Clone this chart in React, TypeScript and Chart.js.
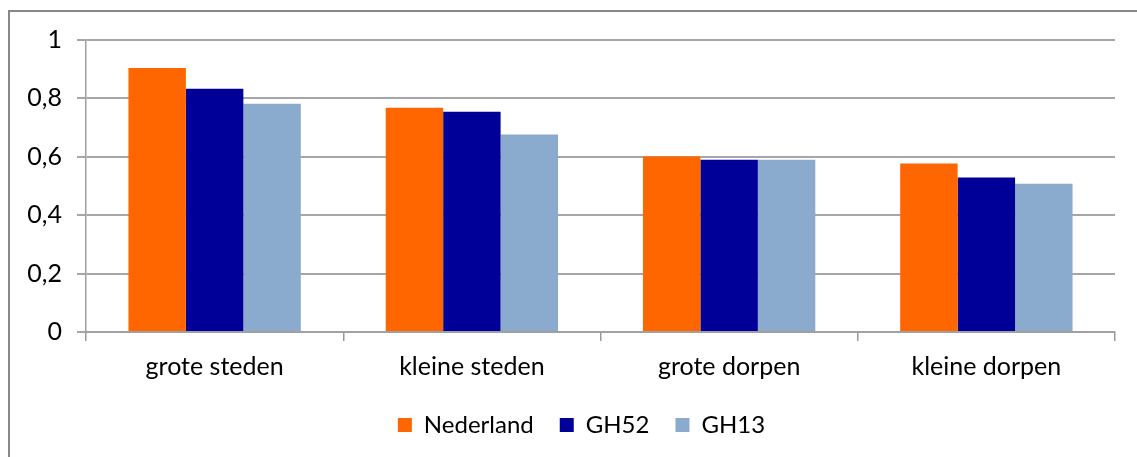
import React, { useEffect, useRef } from "react";
import { Chart, registerables } from "chart.js";

Chart.register(...registerables);

const categories = ["grote steden", "kleine steden", "grote dorpen", "kleine dorpen"];
const seriesNames = ["Nederland", "GH52", "GH13"];
const nederland = [0.904, 0.768, 0.601, 0.577];
const gh52 = [0.833, 0.754, 0.59, 0.529];
const gh13 = [0.782, 0.676, 0.59, 0.508];
const seriesColors = ["#FF6600", "#000099", "#8AAACE"];

const FONT = "Lato, 'Noto Sans', sans-serif";
const LEGEND_SHIFT = 24;

const framePlugin = {
  id: "frame",
  afterLayout(chart: any) {
    if (chart.legend) {
      chart.legend.left += LEGEND_SHIFT;
      chart.legend.right += LEGEND_SHIFT;
    }
  },
  beforeDraw(chart: any) {
    const ctx = chart.ctx;
    ctx.save();
    ctx.fillStyle = "#ffffff";
    ctx.fillRect(0, 0, chart.width, chart.height);
    ctx.strokeStyle = "#888888";
    ctx.lineWidth = 2;
    ctx.beginPath();
    ctx.moveTo(9, chart.height + 2);
    ctx.lineTo(9, 11);
    ctx.lineTo(chart.width + 2, 11);
    ctx.stroke();
    ctx.restore();
  },
};

export default function App() {
  const ref = useRef<HTMLCanvasElement | null>(null);
  useEffect(() => {
    if (!ref.current) return;
    const data = [nederland, gh52, gh13];
    const chart = new Chart(ref.current, {
      type: "bar",
      data: {
        labels: categories,
        datasets: seriesNames.map((name, i) => ({
          label: name,
          data: data[i],
          backgroundColor: seriesColors[i],
          borderWidth: 0,
          barPercentage: 1,
          categoryPercentage: 0.67,
        })),
      },
      options: {
        responsive: false,
        animation: false,
        devicePixelRatio: 1,
        layout: { padding: { left: 0, right: 22, top: 40, bottom: 10 } },
        plugins: {
          tooltip: { enabled: false },
          legend: {
            position: "bottom",
            labels: {
              boxWidth: 14,
              boxHeight: 14,
              padding: 26,
              color: "#000",
              font: { family: FONT, size: 24 },
            },
          },
        },
        scales: {
          x: {
            grid: {
              drawOnChartArea: false,
              drawTicks: true,
              tickLength: 9,
              color: "#999999",
              lineWidth: 1.5,
              offset: true,
            },
            border: { color: "#A0A0A0", width: 2 },
            ticks: {
              color: "#000",
              padding: 11,
              font: { family: FONT, size: 25 },
              maxRotation: 0,
            },
            afterFit(scale: any) {
              scale.height = 55;
            },
          },
          y: {
            min: 0,
            max: 1,
            grid: {
              color: "#A6A6A6",
              lineWidth: 2,
              tickLength: 9,
            },
            border: { color: "#A0A0A0", width: 1.5 },
            ticks: {
              stepSize: 0.2,
              color: "#000",
              padding: 15,
              font: { family: FONT, size: 25 },
              callback: (v: any) => {
                const n = Math.round(Number(v) * 10) / 10;
                return String(n).replace(".", ",");
              },
            },
            afterFit(scale: any) {
              scale.width = 86;
            },
          },
        },
      },
      plugins: [framePlugin],
    });
    return () => chart.destroy();
  }, []);
  return (
    <div style={{ position: "absolute", left: 0, top: 0, width: 1137, height: 457 }}>
      <canvas ref={ref} width={1137} height={457} style={{ width: 1137, height: 457 }} />
    </div>
  );
}
